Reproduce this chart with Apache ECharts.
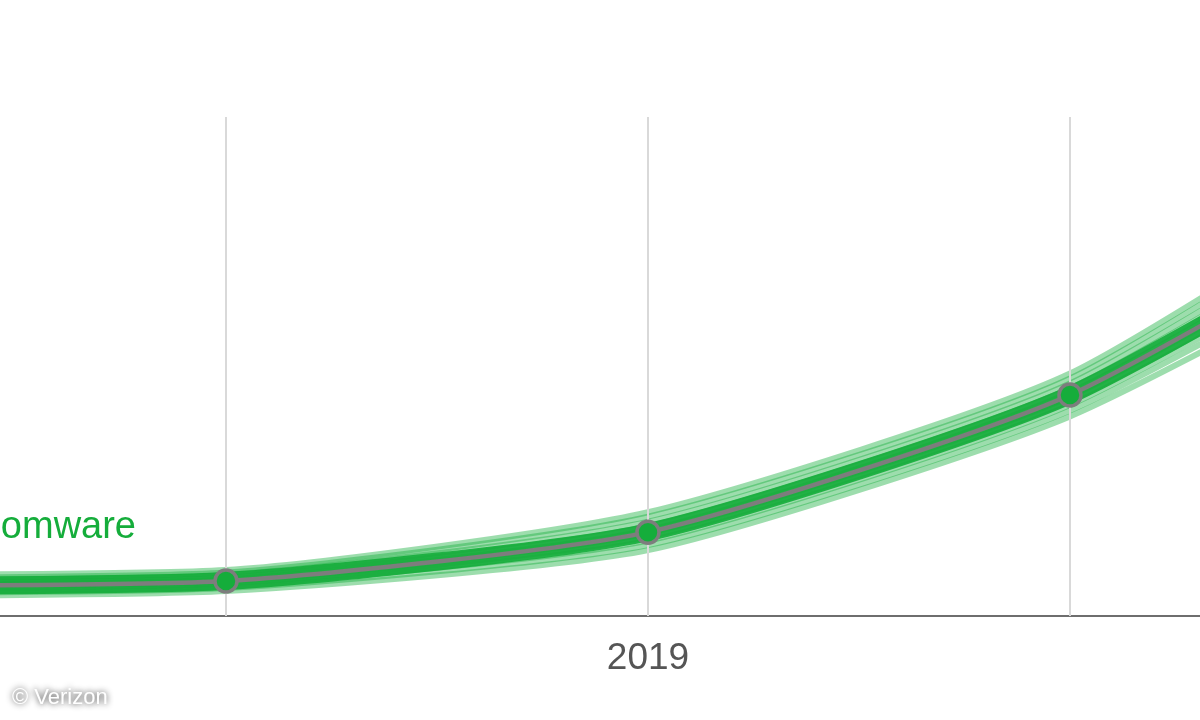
<!DOCTYPE html>
<html>
<head>
<meta charset="utf-8">
<script src="https://cdn.jsdelivr.net/npm/echarts@6/dist/echarts.min.js"></script>
<style>html,body{margin:0;padding:0;background:#fff}#c{width:1200px;height:720px}</style>
</head>
<body>
<div id="c"></div>
<script>
// Years (x positions), median estimate and sampled uncertainty lines
const years = [2017, 2018, 2019, 2020, 2021];
const median = [6.0, 7.0, 16.8, 44.3, 92];
const sample1 = [4.0, 5.0, 13.2, 40.0, 84];
const sample2 = [4.6, 5.6, 14.2, 41.2, 87];
const sample3 = [5.1, 6.1, 15.1, 42.3, 89];
const sample4 = [5.5, 6.5, 15.9, 43.2, 90];
const sample5 = [5.9, 6.9, 16.6, 44.0, 92];
const sample6 = [6.2, 7.3, 17.2, 44.8, 93];
const sample7 = [6.6, 7.7, 18.0, 45.6, 95];
const sample8 = [7.1, 8.2, 18.9, 46.6, 97];
const sample9 = [7.6, 8.7, 19.9, 47.6, 99];
const sample10 = [8.2, 9.2, 20.8, 48.6, 101];
const gridYears = [2018, 2019, 2020];
const labelYears = [2019];
const seriesName = 'Ransomware';

const samples = [sample1, sample2, sample3, sample4, sample5, sample6, sample7, sample8, sample9, sample10];
const green = '#15ad3b';
const smooth = 0.2;

const pairs = arr => years.map((y, i) => [y, arr[i]]);

const series = samples.map(s => ({
  type: 'line', data: pairs(s), smooth: smooth, symbol: 'none', silent: true,
  lineStyle: { color: green, width: 6, opacity: 0.42 }, z: 2
}));
series.push({
  type: 'line', data: pairs(median), smooth: smooth, symbol: 'none', silent: true,
  lineStyle: { color: green, width: 18, opacity: 0.9 }, z: 3
});
series.push({
  type: 'line', data: pairs(median), smooth: smooth, symbol: 'circle', symbolSize: 22,
  lineStyle: { color: '#7d7d7d', width: 4.5 },
  itemStyle: { color: green, borderColor: '#7d7d7d', borderWidth: 3.5 },
  z: 5,
  markLine: {
    silent: true, symbol: 'none', label: { show: false },
    lineStyle: { color: '#d9d9d9', width: 2, type: 'solid' },
    data: gridYears.map(y => ({ xAxis: y }))
  }
});

const chart = echarts.init(document.getElementById('c'), null, { renderer: 'canvas' });
chart.setOption({
  animation: false,
  grid: { left: 0, right: 0, top: 117, bottom: 104 },
  xAxis: {
    type: 'value', min: 2017.4645, max: 2020.3081,
    axisLine: { show: true, lineStyle: { color: '#6e6e6e', width: 2 } },
    axisTick: { show: false },
    splitLine: { show: false },
    axisLabel: { customValues: labelYears, color: '#555', fontSize: 37, margin: 24,
      fontFamily: 'Liberation Sans, Arial, sans-serif', formatter: v => String(v) }
  },
  yAxis: { type: 'value', min: 0, max: 100, show: false, splitLine: { show: false } },
  series: series,
  graphic: [
    { type: 'text', x: 136, y: 528, style: { text: seriesName, fill: green,
      font: '38px "Liberation Sans", Arial, sans-serif', textAlign: 'right', textVerticalAlign: 'middle' }, z: 10 },
    { type: 'text', x: 12, y: 698, style: { text: '© Verizon', fill: '#ffffff',
      font: '22px "Liberation Sans", Arial, sans-serif', textVerticalAlign: 'middle',
      textShadowColor: 'rgba(0,0,0,0.9)', textShadowBlur: 6 }, z: 10 }
  ]
});
</script>
</body>
</html>
